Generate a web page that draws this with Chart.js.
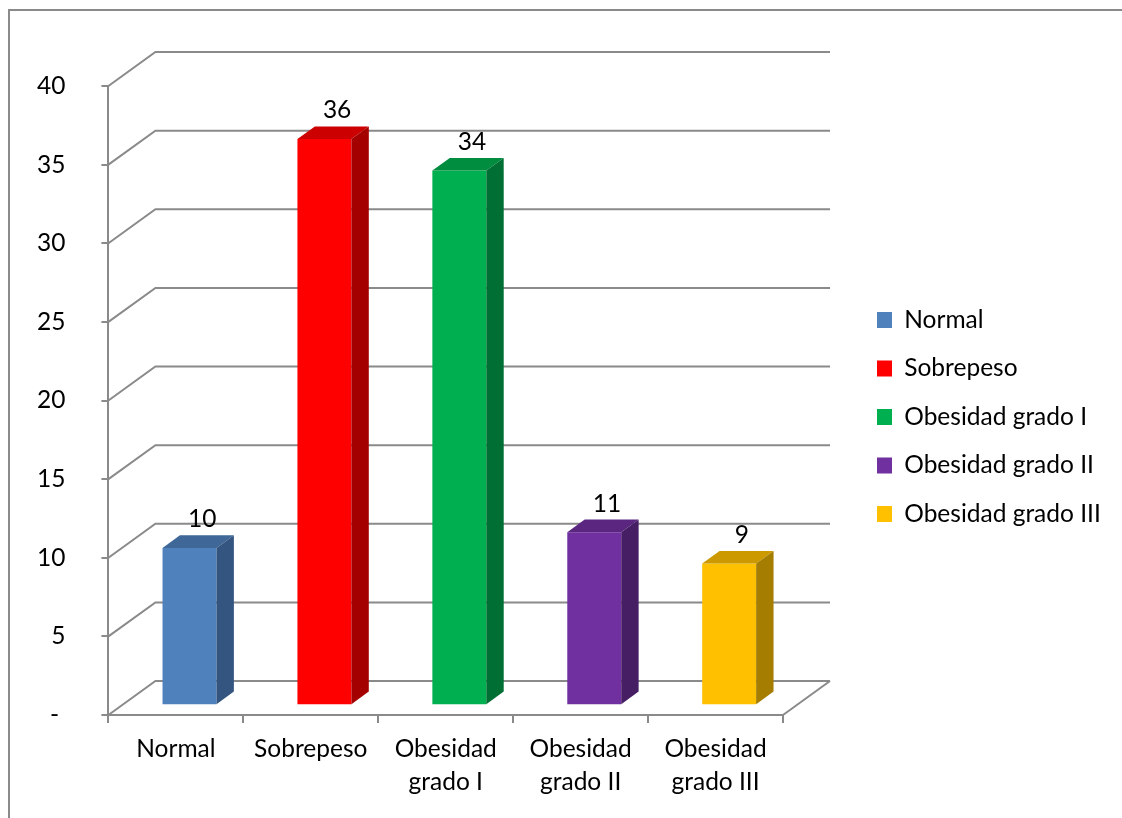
<!DOCTYPE html>
<html lang="es">
<head>
<meta charset="utf-8">
<title>Estado nutricional</title>
<script src="https://cdn.jsdelivr.net/npm/chart.js@4.4.1/dist/chart.umd.min.js"></script>
<style>
    html, body { margin: 0; padding: 0; background: #fff; overflow: hidden; }
    #wrap { position: relative; width: 1122px; height: 818px; }
</style>
</head>
<body>
<div id="wrap"><canvas id="imcChart"></canvas></div>
<script>
// Distribución por estado nutricional
const categorias = ['Normal', 'Sobrepeso', 'Obesidad grado I', 'Obesidad grado II', 'Obesidad grado III'];
const etiquetasEje = [['Normal'], ['Sobrepeso'], ['Obesidad', 'grado I'], ['Obesidad', 'grado II'], ['Obesidad', 'grado III']];
const valores = [10, 36, 34, 11, 9];

// colores de cada barra: cara frontal, tapa y lateral
const colorFrente = ['#4F81BD', '#FF0000', '#00B050', '#7030A0', '#FFC000'];
const colorTapa = ['#3F6797', '#CC0000', '#008D40', '#5A2680', '#CC9A00'];
const colorLado = ['#34557F', '#A50000', '#006F33', '#461E64', '#A57D00'];

const GRIS = '#8a8a8a';
const FUENTE = 24.5;
// profundidad del "piso" y de las paredes
const FONDO_X = 47, FONDO_Y = 34;
// la barra empieza al 29% de la profundidad y ocupa el 37%
const BARRA_INI = 0.29, BARRA_PROF = 0.37;
// espacio reservado a la derecha para la leyenda y su desplazamiento
const ANCHO_LEYENDA = 339, LEYENDA_DX = 70, LEYENDA_DY = -30.5;

Chart.defaults.font.family = 'Lato, "Open Sans", sans-serif';
Chart.defaults.color = '#000';

const efecto3d = {
    id: 'efecto3d',
    beforeInit(chart) {
        const leyenda = chart.legend;
        const fitOriginal = leyenda.fit;
        leyenda.fit = function () {
            fitOriginal.call(this);
            if (!this.isHorizontal()) this.width = ANCHO_LEYENDA;
        };
    },
    afterLayout(chart) {
        const lg = chart.legend;
        lg.left += LEYENDA_DX; lg.right += LEYENDA_DX;
        lg.top += LEYENDA_DY; lg.bottom += LEYENDA_DY;
    },
    beforeDraw(chart) {
        // marco del gráfico
        const ctx = chart.ctx;
        ctx.save();
        ctx.strokeStyle = GRIS;
        ctx.lineWidth = 2;
        ctx.beginPath();
        ctx.moveTo(9, chart.height);
        ctx.lineTo(9, 10);
        ctx.lineTo(chart.width, 10);
        ctx.stroke();
        ctx.restore();
    },
    beforeDatasetsDraw(chart) {
        const { ctx, chartArea: a, scales: { y } } = chart;
        ctx.save();
        ctx.strokeStyle = GRIS;
        ctx.lineWidth = 2;
        // pared lateral + pared del fondo
        y.ticks.forEach(t => {
            const py = y.getPixelForValue(t.value);
            ctx.beginPath();
            ctx.moveTo(a.left, py);
            ctx.lineTo(a.left + FONDO_X, py - FONDO_Y);
            ctx.lineTo(a.right + FONDO_X, py - FONDO_Y);
            ctx.stroke();
        });
        // borde derecho del piso
        ctx.beginPath();
        ctx.moveTo(a.right, a.bottom);
        ctx.lineTo(a.right + FONDO_X, a.bottom - FONDO_Y);
        ctx.stroke();
        ctx.restore();

        // las caras frontales se dibujan desplazadas hacia el fondo
        ctx.save();
        ctx.translate(FONDO_X * BARRA_INI, -FONDO_Y * BARRA_INI);
    },
    afterDatasetsDraw(chart) {
        const ctx = chart.ctx;
        ctx.restore();

        const fx = FONDO_X * BARRA_INI, fy = FONDO_Y * BARRA_INI;
        const px = FONDO_X * BARRA_PROF, py = FONDO_Y * BARRA_PROF;
        const meta = chart.getDatasetMeta(0);

        meta.data.forEach((bar, i) => {
            const { x, y, width, base } = bar.getProps(['x', 'y', 'width', 'base'], true);
            const izq = x - width / 2 + fx, der = x + width / 2 + fx;
            const arriba = y - fy, abajo = base - fy;

            // tapa
            ctx.fillStyle = colorTapa[i];
            ctx.beginPath();
            ctx.moveTo(izq, arriba);
            ctx.lineTo(der, arriba);
            ctx.lineTo(der + px, arriba - py);
            ctx.lineTo(izq + px, arriba - py);
            ctx.closePath();
            ctx.fill();

            // lateral
            ctx.fillStyle = colorLado[i];
            ctx.beginPath();
            ctx.moveTo(der, arriba);
            ctx.lineTo(der + px, arriba - py);
            ctx.lineTo(der + px, abajo - py);
            ctx.lineTo(der, abajo);
            ctx.closePath();
            ctx.fill();

            // valor sobre la barra
            ctx.fillStyle = '#000';
            ctx.font = FUENTE + 'px ' + Chart.defaults.font.family;
            ctx.textAlign = 'center';
            ctx.textBaseline = 'alphabetic';
            ctx.fillText(String(valores[i]), x + fx + px / 2 + 4, arriba - py - 8);
        });
    }
};

new Chart(document.getElementById('imcChart'), {
    type: 'bar',
    data: {
        labels: etiquetasEje,
        datasets: [{
            label: 'Estado nutricional',
            data: valores,
            backgroundColor: colorFrente,
            borderWidth: 0,
            barPercentage: 0.4,
            categoryPercentage: 1,
            clip: false
        }]
    },
    options: {
        responsive: true,
        maintainAspectRatio: false,
        animation: false,
        layout: { padding: { left: 1, right: 0, top: 86, bottom: 9 } },
        plugins: {
            tooltip: { enabled: false },
            legend: {
                position: 'right',
                onClick: null,
                labels: {
                    font: { size: FUENTE },
                    boxWidth: 15,
                    boxHeight: 16,
                    padding: 24,
                    generateLabels: () => categorias.map((c, i) => ({
                        text: c,
                        fillStyle: colorFrente[i],
                        strokeStyle: colorFrente[i],
                        lineWidth: 0,
                        fontColor: '#000',
                        hidden: false,
                        index: i
                    }))
                }
            }
        },
        scales: {
            x: {
                ticks: { padding: 10, font: { size: FUENTE, lineHeight: 33 / FUENTE }, maxRotation: 0 },
                grid: { drawOnChartArea: false, offset: true, tickLength: 8, color: GRIS, lineWidth: 2 },
                border: { color: GRIS, width: 2 }
            },
            y: {
                min: 0,
                max: 40,
                ticks: {
                    stepSize: 5,
                    padding: 36,
                    font: { size: FUENTE },
                    callback: v => v === 0 ? '- ' : v
                },
                grid: { drawOnChartArea: false, tickLength: 7, color: GRIS, lineWidth: 2 },
                border: { color: GRIS, width: 2 }
            }
        }
    },
    plugins: [efecto3d]
});
</script>
</body>
</html>
